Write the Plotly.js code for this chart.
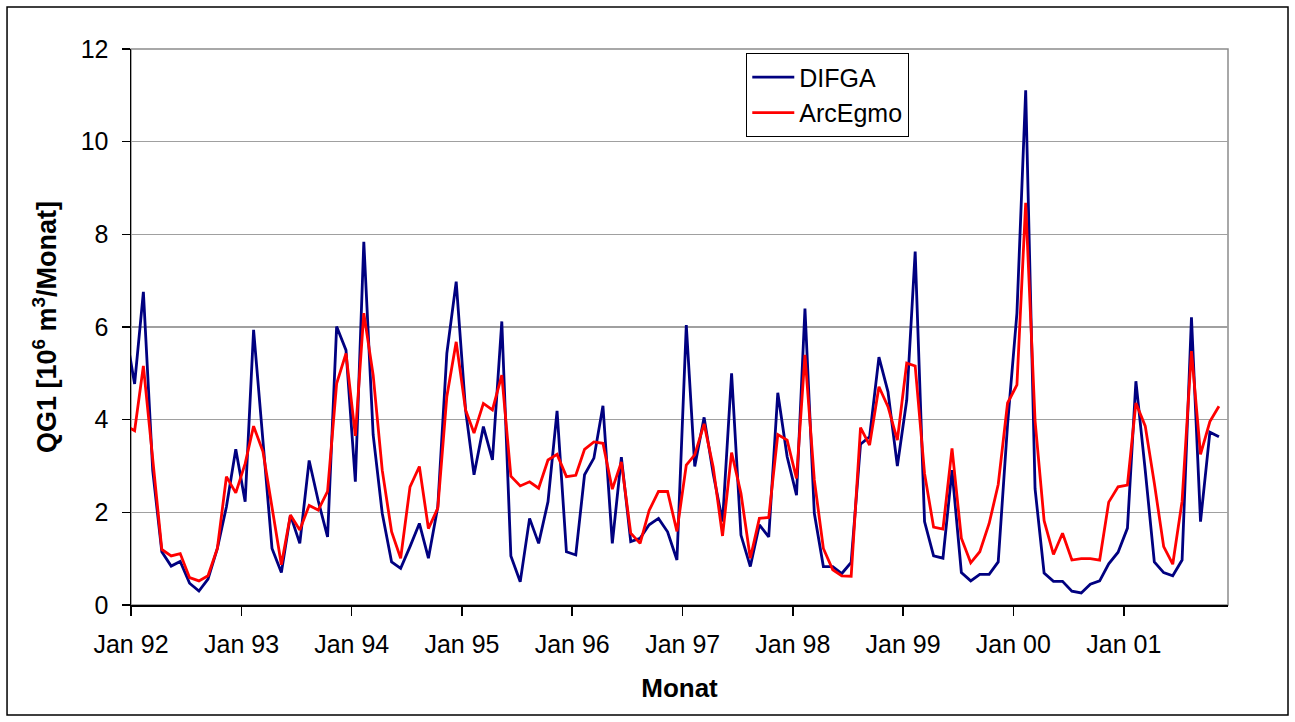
<!DOCTYPE html>
<html>
<head>
<meta charset="utf-8">
<script src="https://cdn.plot.ly/plotly-3.0.1.min.js"></script>
<style>
html,body{margin:0;padding:0;background:#fff;}
#chart{width:1295px;height:722px;}
</style>
</head>
<body>
<div id="chart"></div>
<script>
// Monthly series Jan 1992 .. Dec 2001
var startYear = 1992;
var nMonths = 120;

var difga = [
  5.95, 4.77, 6.76, 2.90, 1.15, 0.84, 0.94, 0.47, 0.30, 0.56, 1.22, 2.12,
  3.36, 2.23, 5.94, 3.58, 1.22, 0.70, 1.94, 1.33, 3.12, 2.25, 1.47, 6.01,
  5.50, 2.66, 7.84, 3.67, 1.98, 0.93, 0.79, 1.26, 1.76, 1.01, 2.12, 5.43,
  6.98, 4.21, 2.81, 3.85, 3.13, 6.12, 1.06, 0.50, 1.87, 1.33, 2.23, 4.19,
  1.15, 1.08, 2.81, 3.17, 4.30, 1.33, 3.19, 1.37, 1.44, 1.73, 1.87, 1.58,
  0.97, 6.04, 2.99, 4.05, 2.84, 1.80, 5.00, 1.51, 0.83, 1.73, 1.47, 4.58,
  3.20, 2.37, 6.40, 1.98, 0.83, 0.83, 0.68, 0.92, 3.47, 3.63, 5.35, 4.60,
  3.00, 4.42, 7.63, 1.80, 1.06, 1.01, 2.91, 0.70, 0.52, 0.66, 0.66, 0.93,
  3.90, 6.30, 11.11, 2.51, 0.69, 0.51, 0.51, 0.30, 0.26, 0.45, 0.52, 0.89,
  1.14, 1.66, 4.83, 2.90, 0.93, 0.70, 0.63, 0.97, 6.21, 1.80, 3.73, 3.63
];

var arcegmo = [
  3.88, 3.76, 5.16, 3.10, 1.20, 1.06, 1.11, 0.59, 0.52, 0.63, 1.22, 2.77,
  2.42, 3.05, 3.86, 3.31, 2.09, 0.87, 1.94, 1.62, 2.15, 2.05, 2.45, 4.78,
  5.43, 3.65, 6.30, 4.96, 2.91, 1.58, 1.01, 2.55, 2.99, 1.65, 2.09, 4.50,
  5.68, 4.21, 3.71, 4.35, 4.21, 4.96, 2.78, 2.57, 2.66, 2.52, 3.13, 3.25,
  2.77, 2.80, 3.36, 3.52, 3.49, 2.50, 3.09, 1.55, 1.33, 2.04, 2.45, 2.45,
  1.59, 3.02, 3.24, 3.91, 2.98, 1.49, 3.29, 2.41, 1.01, 1.87, 1.89, 3.68,
  3.56, 2.73, 5.40, 2.70, 1.22, 0.76, 0.63, 0.62, 3.83, 3.45, 4.71, 4.28,
  3.56, 5.22, 5.16, 2.84, 1.68, 1.64, 3.38, 1.44, 0.91, 1.15, 1.76, 2.60,
  4.36, 4.75, 8.68, 3.98, 1.82, 1.09, 1.55, 0.97, 1.00, 1.00, 0.97, 2.22,
  2.55, 2.59, 4.36, 3.86, 2.63, 1.26, 0.88, 2.24, 5.48, 3.25, 3.96, 4.29
];

var seriesNames = ["DIFGA", "ArcEgmo"];
var yTicks = [0, 2, 4, 6, 8, 10, 12];

var months = [];
for (var i = 0; i < nMonths; i++) {
  var y = startYear + Math.floor(i / 12);
  var m = (i % 12) + 1;
  months.push(y + "-" + (m < 10 ? "0" + m : m) + "-01");
}

var FONT = "Liberation Sans, Arial, Helvetica, sans-serif";

var traces = [
  {x: months, y: difga, type: "scatter", mode: "lines", name: seriesNames[0],
   legendgroup: "a", line: {color: "#000080", width: 2.8}},
  {x: months, y: arcegmo, type: "scatter", mode: "lines", name: seriesNames[1],
   legendgroup: "b", line: {color: "#FF0000", width: 2.8}}
];

var layout = {
  width: 1295, height: 722,
  margin: {l: 131, r: 67, t: 49, b: 117},
  paper_bgcolor: "#ffffff", plot_bgcolor: "#ffffff",
  font: {family: FONT, size: 25, color: "#000"},
  showlegend: true,
  legend: {
    x: 0.5606, y: 0.9928, xanchor: "left", yanchor: "top",
    bgcolor: "#ffffff", bordercolor: "#000", borderwidth: 1.3,
    font: {family: FONT, size: 25, color: "#000"},
    tracegroupgap: 10, traceorder: "normal",
    itemwidth: 42, entrywidth: 165, entrywidthmode: "pixels"
  },
  xaxis: {
    type: "date",
    range: ["1992-01-20", "2001-12-31"],
    tick0: "1992-01-20", dtick: "M12", tickformat: "%b %y",
    showgrid: false, zeroline: false,
    showline: true, linecolor: "#000", linewidth: 1.5,
    ticks: "outside", ticklen: 9, tickwidth: 1.5, tickcolor: "#000",
    ticklabelstandoff: 7,
    tickfont: {family: FONT, size: 25, color: "#000"},
    title: {text: "<b>Monat</b>", font: {family: FONT, size: 26, color: "#000"}, standoff: 22}
  },
  yaxis: {
    range: [0, 12], tickvals: yTicks, ticktext: yTicks.map(String),
    showgrid: true, gridcolor: "#a0a0a0", gridwidth: 1.5, zeroline: false,
    showline: true, linecolor: "#000", linewidth: 1.5,
    ticks: "outside", ticklen: 8, tickwidth: 1.5, tickcolor: "#000",
    ticklabelstandoff: 8,
    tickfont: {family: FONT, size: 25, color: "#000"},
    title: {text: "<b>QG1 [10<sup>6</sup> m<sup>3</sup>/Monat]</b>", font: {family: FONT, size: 27, color: "#000"}, standoff: 16}
  },
  shapes: [
    {type: "rect", xref: "paper", yref: "paper", x0: 0, x1: 1, y0: 0, y1: 1,
     line: {color: "#8c8c8c", width: 1.5}, fillcolor: "rgba(0,0,0,0)", layer: "below"},
    {type: "rect", xref: "paper", yref: "paper", x0: -0.113, x1: 1.0547, y0: -0.1978, y1: 1.0755,
     line: {color: "#000", width: 1.5}, fillcolor: "rgba(0,0,0,0)", layer: "below"}
  ]
};

Plotly.newPlot("chart", traces, layout, {displayModeBar: false, staticPlot: true});
</script>
</body>
</html>
